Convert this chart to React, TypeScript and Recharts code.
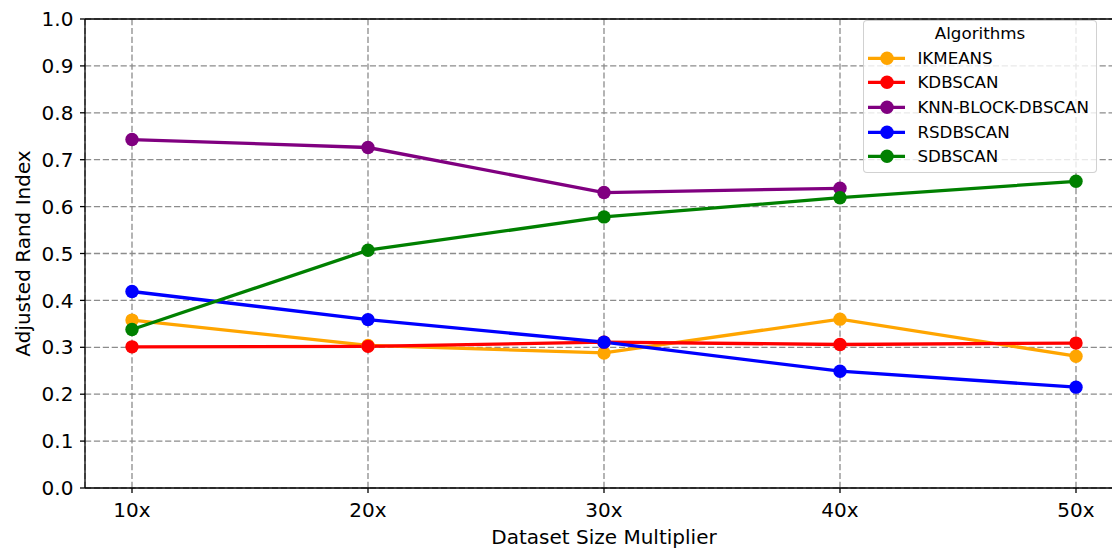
import React from 'react';
import { LineChart, Line, XAxis, YAxis, CartesianGrid, Legend, ReferenceLine } from 'recharts';

const categories = ['10x', '20x', '30x', '40x', '50x'];
const ikmeans = [0.358, 0.304, 0.288, 0.36, 0.281];
const kdbscan = [0.301, 0.302, 0.311, 0.306, 0.309];
const knnBlockDbscan: (number | null)[] = [0.743, 0.726, 0.63, 0.639, null];
const rsdbscan = [0.419, 0.359, 0.311, 0.249, 0.215];
const sdbscan = [0.338, 0.507, 0.578, 0.619, 0.654];
const yTicks = [0, 0.1, 0.2, 0.3, 0.4, 0.5, 0.6, 0.7, 0.8, 0.9, 1.0];

const seriesDefs = [
  { key: 'IKMEANS', values: ikmeans, color: '#FFA500' },
  { key: 'KDBSCAN', values: kdbscan, color: '#FF0000' },
  { key: 'KNN-BLOCK-DBSCAN', values: knnBlockDbscan, color: '#800080' },
  { key: 'RSDBSCAN', values: rsdbscan, color: '#0000FF' },
  { key: 'SDBSCAN', values: sdbscan, color: '#008000' },
];

const data = categories.map((c, i) => {
  const row: Record<string, any> = { name: c };
  seriesDefs.forEach((s) => {
    row[s.key] = s.values[i];
  });
  return row;
});

const FONT = '"DejaVu Sans", sans-serif';

const renderLegend = (props: any) => {
  const payload = props.payload || [];
  const rowH = 24.6;
  return (
    <div
      style={{
        position: 'relative',
        boxSizing: 'border-box',
        width: 234,
        height: 153,
        border: '1.3px solid rgba(204,204,204,0.9)',
        borderRadius: 4,
        background: 'rgba(255,255,255,0.8)',
        fontFamily: FONT,
        fontSize: 16.7,
        color: '#000',
      }}
    >
      <div
        style={{
          position: 'absolute',
          left: 0,
          width: '100%',
          top: 13.3 - rowH / 2 - 1.3,
          height: rowH,
          lineHeight: `${rowH}px`,
          textAlign: 'center',
          whiteSpace: 'nowrap',
        }}
      >
        Algorithms
      </div>
      {payload.map((entry: any, i: number) => (
        <div
          key={entry.value}
          style={{
            position: 'absolute',
            left: 0,
            top: 38.3 + i * rowH - rowH / 2 - 1.3,
            height: rowH,
            width: '100%',
          }}
        >
          <svg width={50} height={rowH} style={{ position: 'absolute', left: 0, top: 0 }}>
            <line x1={4} x2={41} y1={rowH / 2} y2={rowH / 2} stroke={entry.color} strokeWidth={3.3} />
            <circle cx={23} cy={rowH / 2} r={6.7} fill={entry.color} />
          </svg>
          <span
            style={{
              position: 'absolute',
              left: 53.4,
              top: 0,
              lineHeight: `${rowH}px`,
              whiteSpace: 'nowrap',
            }}
          >
            {entry.value}
          </span>
        </div>
      ))}
    </div>
  );
};

const renderYLabel = (props: any) => {
  const vb = props.viewBox || { x: 0, y: 19, width: 85, height: 469 };
  const cx = 22.7;
  const cy = vb.y + vb.height / 2;
  return (
    <text
      x={cx}
      y={cy}
      transform={`rotate(-90, ${cx}, ${cy})`}
      textAnchor="middle"
      dominantBaseline="central"
      fontSize={20}
      fontFamily={FONT}
      fill="#000"
    >
      Adjusted Rand Index
    </text>
  );
};

export default function App() {
  return (
    <div
      style={{
        position: 'fixed',
        left: 0,
        top: 0,
        width: 1112,
        height: 548,
        overflow: 'hidden',
        background: '#fff',
      }}
    >
      <LineChart
        width={1140}
        height={548}
        data={data}
        margin={{ top: 19, right: 17, bottom: 0, left: 0 }}
      >
        <CartesianGrid stroke="#8c8c8c" strokeDasharray="6.2 2.7" strokeWidth={1.3} />
        <XAxis
          dataKey="name"
          type="category"
          padding={{ left: 47, right: 47 }}
          height={60}
          tickSize={5}
          tickMargin={10}
          axisLine={{ stroke: '#000', strokeWidth: 1.3 }}
          tickLine={{ stroke: '#000', strokeWidth: 1.3 }}
          tick={{ fill: '#000', fontSize: 20, fontFamily: FONT }}
          label={{
            value: 'Dataset Size Multiplier',
            position: 'insideBottom',
            offset: 4,
            fill: '#000',
            fontSize: 20,
            fontFamily: FONT,
          }}
        />
        <YAxis
          width={85}
          domain={[0, 1]}
          ticks={yTicks}
          interval={0}
          tickFormatter={(v: number) => v.toFixed(1)}
          tickSize={5}
          tickMargin={6.6}
          axisLine={{ stroke: '#000', strokeWidth: 1.3 }}
          tickLine={{ stroke: '#000', strokeWidth: 1.3 }}
          tick={{ fill: '#000', fontSize: 20, fontFamily: FONT }}
          label={{ content: renderYLabel }}
        />
        <ReferenceLine y={1} stroke="#000" strokeWidth={1.3} />
        {seriesDefs.map((s) => (
          <Line
            key={s.key}
            type="linear"
            dataKey={s.key}
            name={s.key}
            stroke={s.color}
            strokeWidth={3.3}
            dot={{ r: 6.7, fill: s.color, stroke: s.color, strokeWidth: 0 }}
            activeDot={false}
            isAnimationActive={false}
          />
        ))}
        <Legend
          layout="vertical"
          align="center"
          verticalAlign="middle"
          content={renderLegend}
          wrapperStyle={{ position: 'absolute', top: 20, left: 863, width: 234, height: 153, right: 'auto', bottom: 'auto' }}
        />
      </LineChart>
    </div>
  );
}
